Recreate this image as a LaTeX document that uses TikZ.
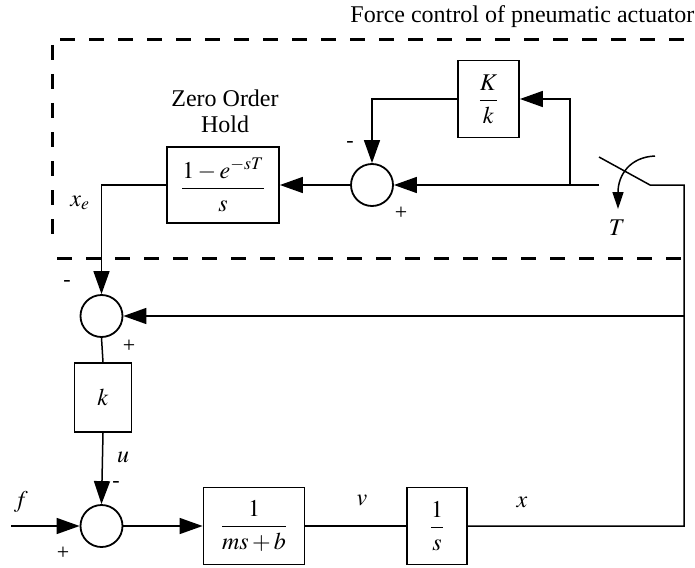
\documentclass[tikz,border=0pt]{standalone}
\usepackage{mathptmx}
\usepackage{fontspec}
\setmainfont{Liberation Serif}
\usetikzlibrary{arrows.meta}
\begin{document}
\begin{tikzpicture}[x=1pt,y=-1pt,
  every node/.style={font=\fontsize{24}{28}\selectfont, inner sep=0pt},
  blk/.style={draw, line width=1.8pt, rectangle, inner sep=0pt},
  sumc/.style={draw, line width=1.8pt, circle, minimum size=42pt, inner sep=0pt},
  wire/.style={line width=1.5pt},
  arr/.style={wire, -{Triangle[length=23pt,width=16pt]}},
  smallarr/.style={wire, -{Triangle[length=17pt,width=11pt]}},
  dashline/.style={line width=3pt, dash pattern=on 15pt off 14pt},
  sgn/.style={font=\fontsize{22}{26}\selectfont}]
\useasboundingbox (0,0) rectangle (695,567);

% dashed box
\draw[dashline] (60,40) -- (705,40);
\draw[dashline] (52,45) -- (52,247);
\draw[dashline] (57,258) -- (705,258);
\node[anchor=east] (title) at (694.5,17) {Force control of pneumatic actuator};

% blocks
\node[blk, minimum width=61pt, minimum height=77pt] (KK) at (488.5,99) {$\displaystyle\frac{K}{k}$};
\node[sumc] (s1) at (372,185) {};
\node[blk, minimum width=112pt, minimum height=76pt] (zoh) at (223,185) {$\displaystyle\frac{1-e^{-sT}}{s}$};
\node (zoh1) at (225,98) {Zero Order};
\node (zoh2) at (225,124) {Hold};

\node[sumc] (s2) at (101.5,316) {};
\node[blk, minimum width=57pt, minimum height=69pt] (kb) at (103,397.5) {$k$};
\node[sumc] (s3) at (101.5,526) {};
\node[blk, minimum width=101pt, minimum height=77pt] (pl) at (254,526) {$\displaystyle\frac{1}{ms+b}$};
\node[blk, minimum width=60pt, minimum height=77pt] (ig) at (437,526) {$\displaystyle\frac{1}{s}$};

% coordinates
\coordinate (j1) at (570,185);
\coordinate (swL) at (599,185);
\coordinate (swB) at (599,157);
\coordinate (swE) at (650,185);
\coordinate (swR) at (684,185);
\coordinate (cr) at (684,526);
\coordinate (fb) at (684,316);
\coordinate (fin) at (11,526);
\coordinate (arcS) at (655,156);
\coordinate (arcE) at (618,209);

% connectors
\draw[arr] (swL) -- (s1.east);
\draw[arr] (j1) |- (KK.east);
\draw[arr] (KK.west) -| (s1.north);
\draw[arr] (s1.west) -- (zoh.east);
\draw[arr] (zoh.west) -| (s2.north);
\draw[wire] (s2.south) -- (kb.north);
\draw[arr] (kb.south) -- (s3.north);
\draw[arr] (fin) -- (s3.west);
\draw[arr] (s3.east) -- (pl.west);
\draw[wire] (pl.east) -- (ig.west);
\draw[wire] (ig.east) -- (cr) -- (swR) -- (swE) -- (swB);
\draw[arr] (fb) -- (s2.east);
\draw[smallarr] (arcS) .. controls (630,157) and (618,175) .. (arcE);

% labels
\node[sgn] (m1) at (350,144) {-};
\node[sgn] (p1) at (401,213) {+};
\node (T) at (617,228) {$T$};
\node (xe) at (80,203) {$x_e$};
\node[sgn] (m2) at (67,283) {-};
\node[sgn] (p2) at (129,346) {+};
\node (u) at (123,457) {$u$};
\node[sgn] (m3) at (116,484) {-};
\node (f) at (21,502) {$f$};
\node[sgn] (p3) at (63,553) {+};
\node (v) at (362,500) {$v$};
\node (x) at (522,502) {$x$};
\end{tikzpicture}
\end{document}
